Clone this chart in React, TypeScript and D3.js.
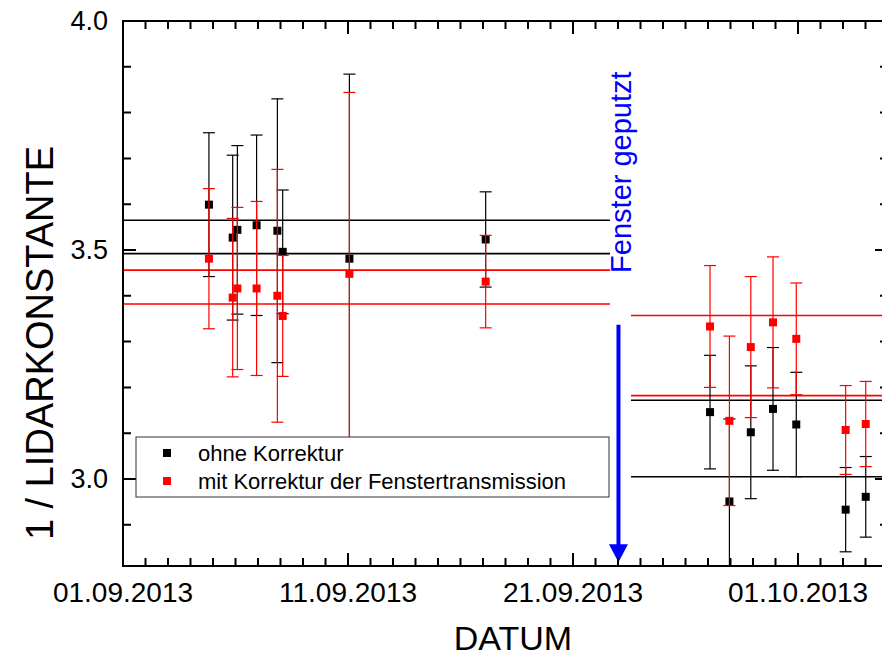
import React from 'react';
import * as d3 from 'd3';

// Messzeitpunkte (Datum Uhrzeit)
const obsDates = [
  '04.09.2013 19:40', '05.09.2013 21:00', '06.09.2013 02:00', '06.09.2013 22:30',
  '07.09.2013 20:40', '08.09.2013 02:20', '11.09.2013 01:30', '17.09.2013 02:50',
  '27.09.2013 02:10', '27.09.2013 22:50', '28.09.2013 21:40', '29.09.2013 21:20',
  '30.09.2013 22:10', '03.10.2013 02:50', '04.10.2013 00:15',
];

// ohne Korrektur
const ohneValues = [3.599, 3.527, 3.544, 3.554, 3.542, 3.496, 3.481, 3.523, 3.146, 2.951, 3.102, 3.153, 3.119, 2.933, 2.961];
const ohneErrors = [0.157, 0.18, 0.184, 0.197, 0.288, 0.135, 0.403, 0.104, 0.124, 0.18, 0.145, 0.134, 0.114, 0.092, 0.088];

// mit Korrektur der Fenstertransmission
const mitValues = [3.481, 3.396, 3.416, 3.416, 3.4, 3.356, 3.448, 3.431, 3.333, 3.127, 3.288, 3.342, 3.306, 3.107, 3.12];
const mitErrors = [0.153, 0.173, 0.177, 0.19, 0.276, 0.132, 0.396, 0.101, 0.133, 0.185, 0.154, 0.143, 0.122, 0.097, 0.093];

// Mittelwert-Bänder vor / nach dem Putzen
const periodBefore = ['01.09.2013 00:00', '22.09.2013 15:30'];
const periodAfter = ['23.09.2013 13:50', '05.10.2013 00:00'];
const ohneLevelsBefore = [3.565, 3.492];
const mitLevelsBefore = [3.456, 3.382];
const ohneLevelsAfter = [3.172, 3.005];
const mitLevelsAfter = [3.357, 3.182];

const cleanDate = '23.09.2013 00:30';

const xTickLabels = ['01.09.2013', '11.09.2013', '21.09.2013', '01.10.2013'];
const yTickLabels = ['3.0', '3.5', '4.0'];

const W = 882;
const H = 656;
const FONT = "'Liberation Sans', Arial, sans-serif";
const RED = '#f00';

const parse = d3.timeParse('%d.%m.%Y %H:%M');
const parseDay = d3.timeParse('%d.%m.%Y');

const x = d3
  .scaleTime()
  .domain([parseDay('01.09.2013')!, parseDay('05.10.2013')!])
  .range([123, 888]);
const y = d3.scaleLinear().domain([2.81, 4.0]).range([566, 21]);

const [L, R] = x.range();
const [B, T] = y.range();

const Series = ({ values, errors, color }: { values: number[]; errors: number[]; color: string }) => (
  <g>
    {values.map((v, i) => {
      const cx = x(parse(obsDates[i])!);
      const y1 = y(v + errors[i]);
      const y2 = y(v - errors[i]);
      return (
        <g key={i} stroke={color} strokeWidth={1.2}>
          <line x1={cx} x2={cx} y1={y1} y2={y2} />
          <line x1={cx - 6} x2={cx + 6} y1={y1} y2={y1} />
          <line x1={cx - 6} x2={cx + 6} y1={y2} y2={y2} />
          <rect x={cx - 4} y={y(v) - 4} width={8} height={8} fill={color} stroke="none" />
        </g>
      );
    })}
  </g>
);

const Levels = ({ period, levels, color }: { period: string[]; levels: number[]; color: string }) => (
  <g stroke={color} strokeWidth={1.6}>
    {levels.map((lv, i) => (
      <line key={i} x1={x(parse(period[0])!)} x2={x(parse(period[1])!)} y1={y(lv)} y2={y(lv)} />
    ))}
  </g>
);

export default function App() {
  const [d0, d1] = x.domain();
  const days = d3.timeDay.range(d0, d3.timeDay.offset(d1, 1));
  const yTicks = y.ticks(12);

  let tickPath = '';
  days.forEach((d, i) => {
    const px = x(d);
    const len = i % 10 === 0 ? 13 : 8;
    tickPath += `M${px},${B}V${B - len}M${px},${T}V${T + len}`;
  });
  yTicks.forEach((v) => {
    const py = y(v);
    const len = Math.abs(v * 2 - Math.round(v * 2)) < 1e-6 ? 13 : 8;
    tickPath += `M${L},${py}H${L + len}M${R},${py}H${R - len}`;
  });

  const cx = x(parse(cleanDate)!);
  const arrowTop = y(3.337);
  const arrowTip = y(2.818);

  return (
    <svg width={W} height={H} style={{ position: 'absolute', left: 0, top: 0, background: '#fff' }} fontFamily={FONT}>
      <defs>
        <clipPath id="plot">
          <rect x={L} y={T} width={R - L} height={B - T} />
        </clipPath>
      </defs>

      <g clipPath="url(#plot)">
        <Levels period={periodBefore} levels={ohneLevelsBefore} color="#000" />
        <Levels period={periodBefore} levels={mitLevelsBefore} color={RED} />
        <Levels period={periodAfter} levels={ohneLevelsAfter} color="#000" />
        <Levels period={periodAfter} levels={mitLevelsAfter} color={RED} />
        <Series values={ohneValues} errors={ohneErrors} color="#000" />
        <Series values={mitValues} errors={mitErrors} color={RED} />
      </g>

      {/* Fenster geputzt */}
      <text
        transform={`translate(${cx + 13},${y(3.67)}) rotate(-90)`}
        textAnchor="middle"
        fontSize={29}
        fill="#00f"
      >
        Fenster geputzt
      </text>
      <line x1={cx} x2={cx} y1={arrowTop} y2={arrowTip - 16} stroke="#00f" strokeWidth={4} />
      <path d={`M${cx - 9.5},${arrowTip - 18}L${cx + 9.5},${arrowTip - 18}L${cx},${arrowTip}Z`} fill="#00f" />

      {/* frame + ticks */}
      <rect x={L} y={T} width={R - L} height={B - T} fill="none" stroke="#000" strokeWidth={2} />
      <path d={tickPath} fill="none" stroke="#000" strokeWidth={2} />

      {yTickLabels.map((t) => (
        <text key={t} x={108} y={y(+t)} dy="0.35em" textAnchor="end" fontSize={27}>
          {t}
        </text>
      ))}
      {xTickLabels.map((t) => (
        <text key={t} x={x(parseDay(t)!)} y={602} textAnchor="middle" fontSize={28}>
          {t}
        </text>
      ))}

      <text x={513} y={650} textAnchor="middle" fontSize={34}>
        DATUM
      </text>
      <text transform={`translate(53,343) rotate(-90)`} textAnchor="middle" fontSize={38}>
        1 / LIDARKONSTANTE
      </text>

      {/* legend */}
      <g>
        <rect x={136} y={437} width={473} height={60} fill="#fff" stroke="#333" strokeWidth={1} />
        <rect x={163} y={449} width={8} height={8} fill="#000" />
        <text x={198} y={461} fontSize={22}>ohne Korrektur</text>
        <rect x={163} y={477} width={8} height={8} fill={RED} />
        <text x={198} y={489} fontSize={22}>mit Korrektur der Fenstertransmission</text>
      </g>
    </svg>
  );
}
